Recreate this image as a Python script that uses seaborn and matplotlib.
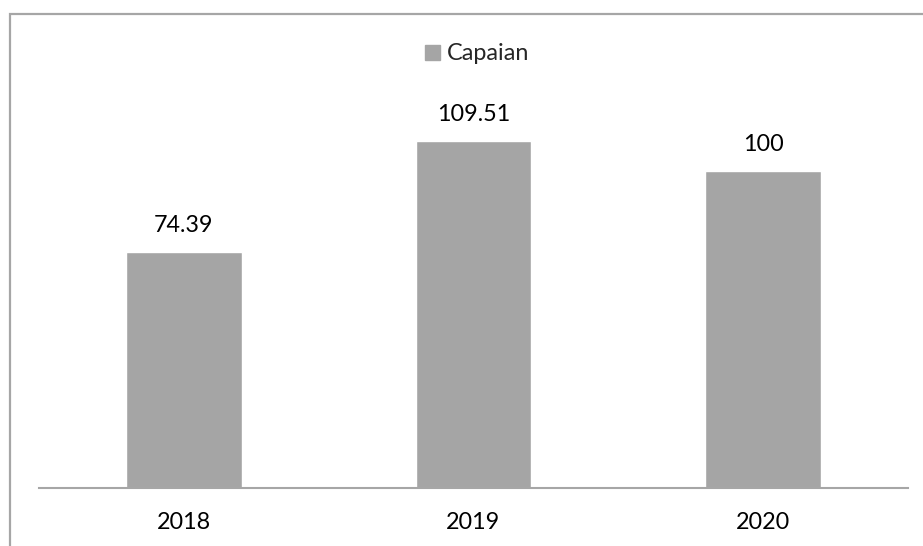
import matplotlib
matplotlib.use("Agg")
import matplotlib.pyplot as plt
from matplotlib.patches import Patch, Rectangle
import pandas as pd
import seaborn as sns

# Data
years = ["2018", "2019", "2020"]
capaian = [74.39, 109.51, 100]
value_labels = ["74.39", "109.51", "100"]

bar_color = "#A5A5A5"
line_color = "#A6A6A6"

sns.set_style("white")
plt.rcParams["font.family"] = ["Lato", "DejaVu Sans"]

df = pd.DataFrame({"Tahun": years, "Capaian": capaian})

W, H = 923, 546
fig = plt.figure(figsize=(W / 100, H / 100), dpi=100)
ax = fig.add_axes([39 / W, 1 - 488 / H, (908 - 39) / W, (488 - 28) / H])

sns.barplot(data=df, x="Tahun", y="Capaian", color=bar_color, width=0.4,
            saturation=1, ax=ax)
ax.set_ylim(0, 145)
ax.set_xlim(-0.5, 2.5)

for i, (v, lab) in enumerate(zip(capaian, value_labels)):
    ax.annotate(lab, (i, v), xytext=(0, 19), textcoords="offset points",
                ha="center", va="center", fontsize=16.8, color="#000000")

for s in ["top", "left", "right"]:
    ax.spines[s].set_visible(False)
ax.spines["bottom"].set_color(line_color)
ax.spines["bottom"].set_linewidth(1.5)
ax.set_yticks([])
ax.set_xlabel("")
ax.set_ylabel("")
ax.tick_params(axis="x", length=0, pad=17.5, labelsize=16.8, labelcolor="#000000")

# legend at the top
fig.legend(handles=[Patch(color=bar_color, label="Capaian")],
           loc="center", bbox_to_anchor=(477 / W, 1 - 54 / H), frameon=False,
           fontsize=16.8, handlelength=0.65, handleheight=0.65, handletextpad=0.3)

# chart frame (top and left edges visible)
fig.patches.append(Rectangle((9.5 / W, -0.1), 1.2, 1.1 - 14 / H,
                             transform=fig.transFigure, fill=False,
                             edgecolor=line_color, linewidth=1.6))

fig.savefig("out.png", dpi=100)
